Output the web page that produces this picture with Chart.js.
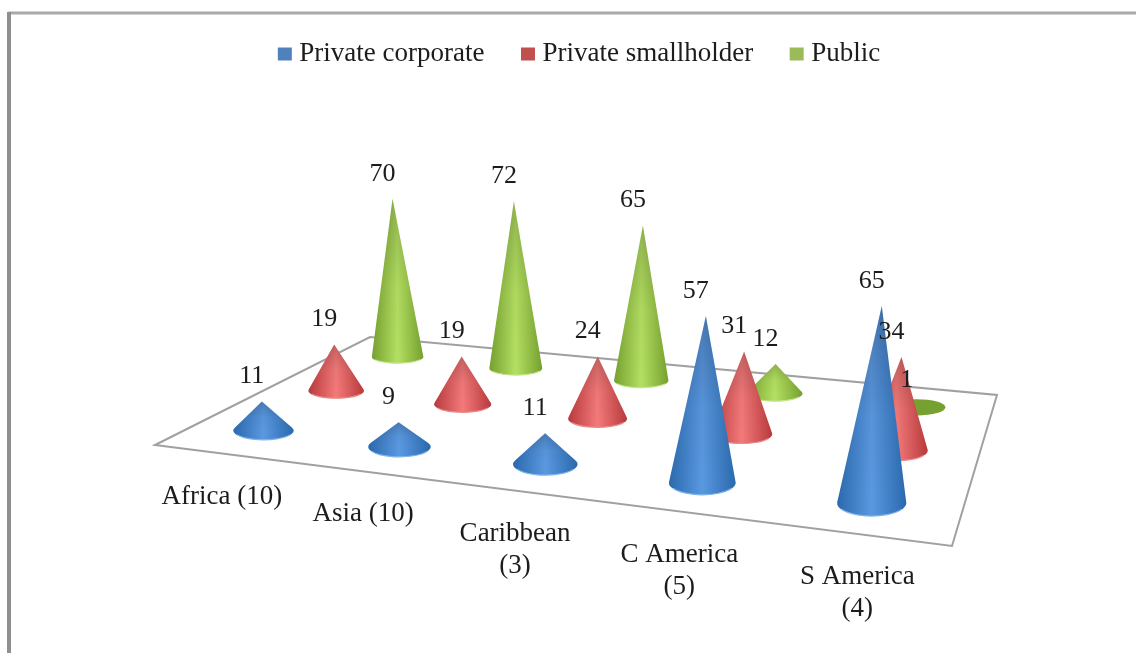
<!DOCTYPE html>
<html>
<head>
<meta charset="utf-8">
<title>Forest ownership by region</title>
<script src="https://cdn.jsdelivr.net/npm/chart.js@4"></script>
<style>
  html, body { margin: 0; padding: 0; background: #fff; }
  canvas { display: block; }
</style>
</head>
<body>
<canvas id="coneChart" width="1136" height="653"></canvas>
<script>
// Regions with the number of countries in brackets
const categories = ['Africa (10)', 'Asia (10)', ['Caribbean', '(3)'], ['C America', '(5)'], ['S America', '(4)']];

// Share per ownership type
const privateCorporate = [11, 9, 11, 57, 65];
const privateSmallholder = [19, 19, 24, 31, 34];
const publicOwned = [70, 72, 65, 12, 1];

// Base colour, then dark edge and highlight of the cone shading
const shades = [
    { base: '#4f81bd', dark: '#2a69ad', light: '#5a98e0', rim: '#7db4ee' },
    { base: '#c0504d', dark: '#b8393c', light: '#f47a7a', rim: '#e88a88' },
    { base: '#9bbb59', dark: '#76a02f', light: '#b4e062', rim: '#c4e58c' }
];

const serif = '"Liberation Serif", "Times New Roman", serif';

// Floor corners on the canvas: front-left, front-right, back-right, back-left
const floorCorners = [[155, 445], [952, 546], [997, 395], [370, 337]];

// Solve the unit-square homography for the floor
function buildFloor(c) {
    const [p0, p1, p2, p3] = c;
    const dx1 = p1[0] - p2[0], dx2 = p3[0] - p2[0], sx = p0[0] - p1[0] + p2[0] - p3[0];
    const dy1 = p1[1] - p2[1], dy2 = p3[1] - p2[1], sy = p0[1] - p1[1] + p2[1] - p3[1];
    const det = dx1 * dy2 - dx2 * dy1;
    const g = (sx * dy2 - dx2 * sy) / det;
    const h = (dx1 * sy - sx * dy1) / det;
    const a = p1[0] - p0[0] + g * p1[0], b = p3[0] - p0[0] + h * p3[0];
    const d = p1[1] - p0[1] + g * p1[1], e = p3[1] - p0[1] + h * p3[1];
    return (s, t) => {
        const w = g * s + h * t + 1;
        return [(a * s + b * t + p0[0]) / w, (d * s + e * t + p0[1]) / w];
    };
}
const floorPoint = buildFloor(floorCorners);

// Fraction along the front edge for a category
function alongFloor(chart, index) {
    const xScale = chart.scales.x;
    return (xScale.getPixelForValue(index) - xScale.left) / xScale.width;
}

// Where a cone of one dataset and category stands, and how it is scaled there
function coneGeometry(chart, datasetIndex, index) {
    const yScale = chart.scales.y;
    const value = chart.data.datasets[datasetIndex].data[index];
    const t = (datasetIndex + 0.5) / chart.data.datasets.length;
    const [cx, cy] = floorPoint(alongFloor(chart, index), t);
    const depth = 2.33 + (cy - 370) * 0.0053;
    const unit = yScale.height / (yScale.max - yScale.min);
    const height = (yScale.getPixelForValue(0) - yScale.getPixelForValue(value)) / unit * depth;
    return {
        cx, cy, height,
        radius: 11.4 * depth,
        flat: 0.24 + (cy - 360) * 0.0009,
        tipX: cx + height * (cx - 580) * 0.000175,
        tipY: cy - height
    };
}

function drawCone(ctx, g, shade) {
    const ry = g.radius * g.flat;
    ctx.save();

    // a very low cone is little more than its base disc
    if (g.height <= ry) {
        ctx.beginPath();
        ctx.ellipse(g.cx, g.cy, g.radius, ry, 0, 0, Math.PI * 2);
        ctx.fillStyle = shade.dark;
        ctx.fill();
        ctx.restore();
        return;
    }

    const side = ctx.createLinearGradient(g.cx - g.radius, 0, g.cx + g.radius, 0);
    side.addColorStop(0, shade.dark);
    side.addColorStop(0.5, shade.light);
    side.addColorStop(1, shade.dark);

    // sides leave the base where the tangents from the tip touch it
    const phi = Math.asin(ry / g.height);
    ctx.beginPath();
    ctx.ellipse(g.cx, g.cy, g.radius, ry, 0, Math.PI + phi, -phi, true);
    ctx.lineTo(g.tipX, g.tipY);
    ctx.closePath();
    ctx.fillStyle = side;
    ctx.fill();

    // the narrow end reads darker than the belly
    const tipShade = ctx.createLinearGradient(0, g.tipY, 0, g.cy);
    tipShade.addColorStop(0, 'rgba(0,0,0,0.2)');
    tipShade.addColorStop(0.55, 'rgba(0,0,0,0.03)');
    tipShade.addColorStop(1, 'rgba(0,0,0,0)');
    ctx.fillStyle = tipShade;
    ctx.fill();

    ctx.beginPath();
    ctx.ellipse(g.cx, g.cy, g.radius - 0.5, ry, 0, Math.PI * 0.85, Math.PI * 0.15, true);
    ctx.strokeStyle = shade.rim;
    ctx.lineWidth = 1.2;
    ctx.stroke();
    ctx.restore();
}

const conePlugin = {
    id: 'cones',
    // page frame and floor sit under the cones
    beforeDatasetsDraw(chart) {
        const ctx = chart.ctx;
        ctx.save();
        ctx.strokeStyle = '#a9a9a9';
        ctx.lineWidth = 3;
        ctx.beginPath();
        ctx.moveTo(1136, 13);
        ctx.lineTo(8.5, 13);
        ctx.stroke();
        ctx.strokeStyle = '#8f8f8f';
        ctx.lineWidth = 4;
        ctx.beginPath();
        ctx.moveTo(9, 12);
        ctx.lineTo(9, 653);
        ctx.stroke();

        ctx.strokeStyle = '#a0a0a0';
        ctx.lineWidth = 2;
        ctx.beginPath();
        floorCorners.forEach((p, i) => i ? ctx.lineTo(p[0], p[1]) : ctx.moveTo(p[0], p[1]));
        ctx.closePath();
        ctx.stroke();
        ctx.restore();
    },
    // each dataset is drawn as cones instead of bars
    beforeDatasetDraw(chart, args) {
        chart.data.datasets[args.index].data.forEach((v, i) => {
            drawCone(chart.ctx, coneGeometry(chart, args.index, i), shades[args.index]);
        });
        return false;
    },
    afterDatasetsDraw(chart) {
        const ctx = chart.ctx;
        ctx.save();
        ctx.fillStyle = '#1c1c1c';
        ctx.textAlign = 'center';
        ctx.textBaseline = 'middle';
        ctx.font = '26px ' + serif;
        chart.data.datasets.forEach((ds, d) => {
            ds.data.forEach((v, i) => {
                const g = coneGeometry(chart, d, i);
                ctx.fillText(String(v), g.tipX - 10, g.tipY - 25);
            });
        });

        // region names run along the front edge of the floor
        ctx.font = '27px ' + serif;
        chart.data.labels.forEach((label, i) => {
            const [x, y] = floorPoint(alongFloor(chart, i), 0);
            [].concat(label).forEach((line, n) => ctx.fillText(line, x, y + 43 + n * 32));
        });
        ctx.restore();
    }
};

// The thick border on a thin legend box gives a square that sits close to its text
const legendStroke = 12;

new Chart(document.getElementById('coneChart'), {
    type: 'bar',
    data: {
        labels: categories,
        datasets: [
            { label: 'Private corporate', data: privateCorporate, backgroundColor: shades[0].base, borderColor: shades[0].base, borderWidth: legendStroke },
            { label: 'Private smallholder', data: privateSmallholder, backgroundColor: shades[1].base, borderColor: shades[1].base, borderWidth: legendStroke },
            { label: 'Public', data: publicOwned, backgroundColor: shades[2].base, borderColor: shades[2].base, borderWidth: legendStroke }
        ]
    },
    options: {
        responsive: false,
        animation: false,
        layout: { padding: { top: -2, left: 28 } },
        scales: {
            x: { display: false },
            y: { display: false, min: 0, max: 100 }
        },
        plugins: {
            tooltip: { enabled: false },
            legend: {
                position: 'top',
                labels: {
                    boxWidth: 2,
                    boxHeight: 1,
                    padding: 42.5,
                    color: '#1c1c1c',
                    font: { family: serif, size: 27 }
                }
            }
        }
    },
    plugins: [conePlugin]
});
</script>
</body>
</html>
